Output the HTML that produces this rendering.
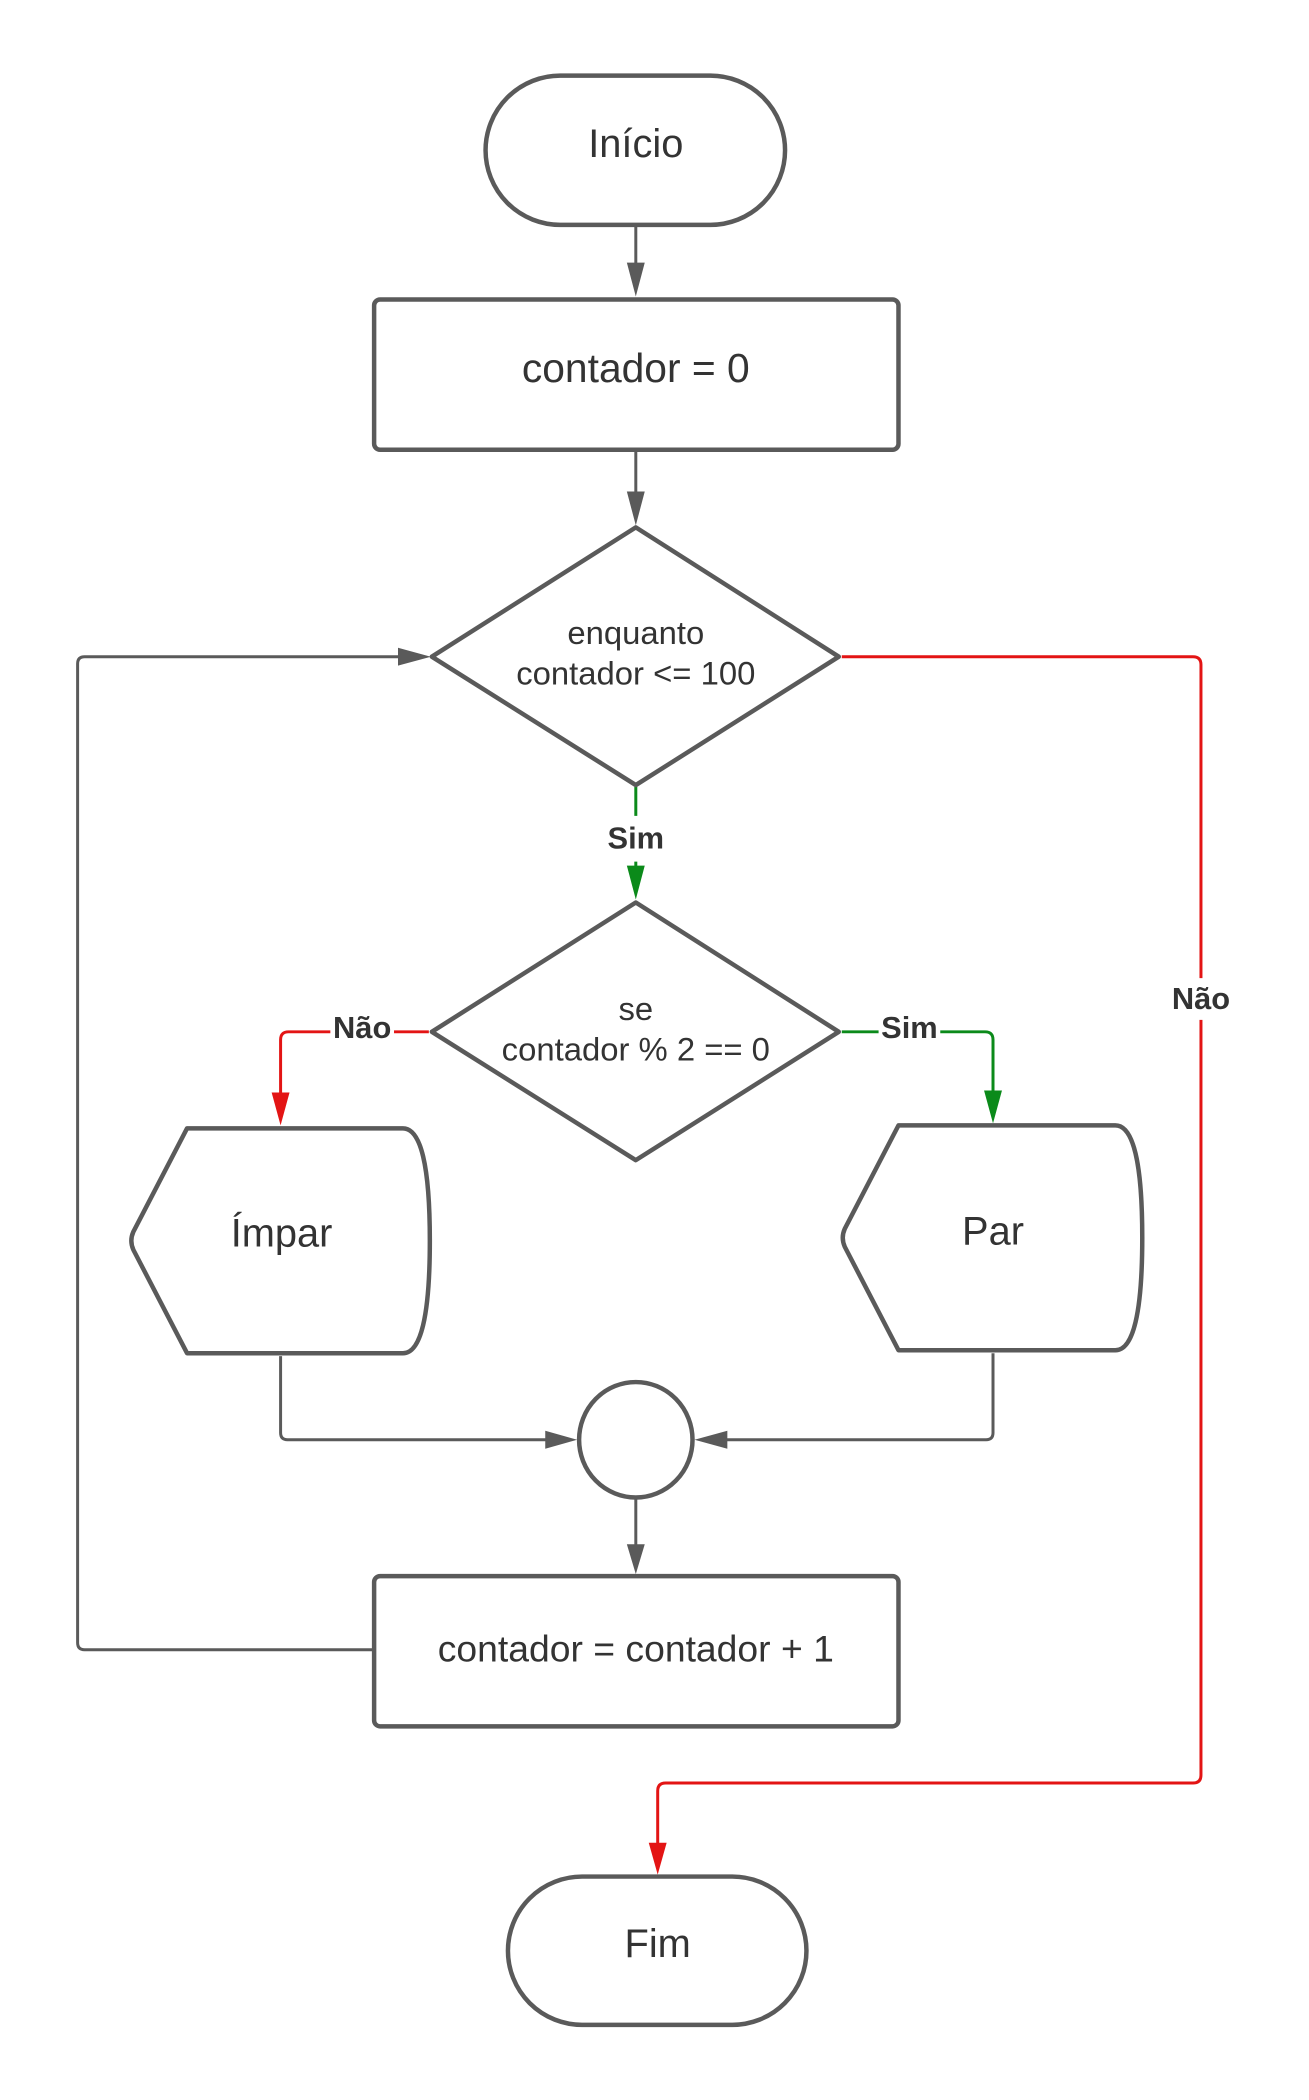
<!DOCTYPE html>
<html><head><meta charset="utf-8"><style>html,body{margin:0;padding:0;background:#fff}svg{display:block}</style></head>
<body>
<svg width="1309" height="2100" viewBox="0 0 1309 2100" xmlns="http://www.w3.org/2000/svg" font-family="Liberation Sans, sans-serif">
<g transform="scale(0.995)">
<g fill="none" stroke-width="3" stroke-linejoin="round">
<path d="M639 228 V286" stroke="#5a5a5a"/>
<path d="M639 454 V515" stroke="#5a5a5a"/>
<path d="M282 1363 V1440 q0 7 7 7 H566" stroke="#5a5a5a"/>
<path d="M998 1360 V1440 q0 7 -7 7 H712" stroke="#5a5a5a"/>
<path d="M639 1506 V1568" stroke="#5a5a5a"/>
<path d="M375 1658 H85 q-7 0 -7 -7 V667 q0 -7 7 -7 H418" stroke="#5a5a5a"/>
<path d="M639 791 V820 M639 866 V890" stroke="#0b8a1a"/>
<path d="M846 1037 H883 M945 1037 H990 q8 0 8 8 V1115" stroke="#0b8a1a"/>
<path d="M846 660 H1199 q8 0 8 8 V983 M1207 1025 V1784 q0 8 -8 8 H669 q-8 0 -8 8 V1870" stroke="#e31414"/>
<path d="M431 1037 H396 M332 1037 H290 q-8 0 -8 8 V1118" stroke="#e31414"/>
</g>
<g>
<path d="M630 264 L648 264 L639 298z" fill="#5a5a5a"/>
<path d="M630 494 L648 494 L639 528z" fill="#5a5a5a"/>
<path d="M630 1552 L648 1552 L639 1582z" fill="#5a5a5a"/>
<path d="M400 651 L400 669 L433 660z" fill="#5a5a5a"/>
<path d="M548 1438 L548 1456 L580 1447z" fill="#5a5a5a"/>
<path d="M731 1438 L731 1456 L698 1447z" fill="#5a5a5a"/>
<path d="M630 870 L648 870 L639 904z" fill="#0b8a1a"/>
<path d="M989 1096 L1007 1096 L998 1129z" fill="#0b8a1a"/>
<path d="M273 1098 L291 1098 L282 1131z" fill="#e31414"/>
<path d="M652 1852 L670 1852 L661 1884z" fill="#e31414"/>
</g>
<g fill="#fff" stroke="#5a5a5a" stroke-width="4.5" stroke-linejoin="round">
<path d="M563 76 H714 A74 74 0 0 1 714 226 H563 A74 74 0 0 1 563 76 Z"/>
<rect x="376" y="301" width="527" height="151" rx="6"/>
<path d="M639 530 L843 660 L639 789 L434 660 Z"/>
<path d="M639 907 L843 1037 L639 1166 L434 1037 Z"/>
<path d="M188 1134 H405 Q432 1134 432 1247 Q432 1360 405 1360 H188 L134 1256 Q130 1247 134 1238 Z"/>
<path d="M903 1131 H1121 Q1148 1131 1148 1244 Q1148 1357 1121 1357 H903 L849 1253 Q845 1244 849 1235 Z"/>
<ellipse cx="639" cy="1447" rx="57" ry="58"/>
<rect x="376" y="1584" width="527" height="151" rx="6"/>
<path d="M585 1886 H736 A74 74 0 0 1 736 2035 H585 A74 74 0 0 1 585 1886 Z"/>
</g>
<g fill="#333" text-anchor="middle">
<text x="639" y="158" font-size="40">Início</text>
<text x="639" y="384" font-size="41">contador = 0</text>
<text x="639" y="647" font-size="33">enquanto</text>
<text x="639" y="688" font-size="33">contador &lt;= 100</text>
<text x="639" y="1025" font-size="33">se</text>
<text x="639" y="1066" font-size="33">contador % 2 == 0</text>
<text x="283" y="1253" font-size="40">Ímpar</text>
<text x="998" y="1251" font-size="40">Par</text>
<text x="639" y="1670" font-size="37.5">contador = contador + 1</text>
<text x="661" y="1967" font-size="40">Fim</text>
<g font-weight="bold" font-size="31">
<text x="639" y="853">Sim</text>
<text x="1207" y="1014">Não</text>
<text x="364" y="1043">Não</text>
<text x="914" y="1043">Sim</text>
</g>
</g>
</g>
</svg>
</body></html>
